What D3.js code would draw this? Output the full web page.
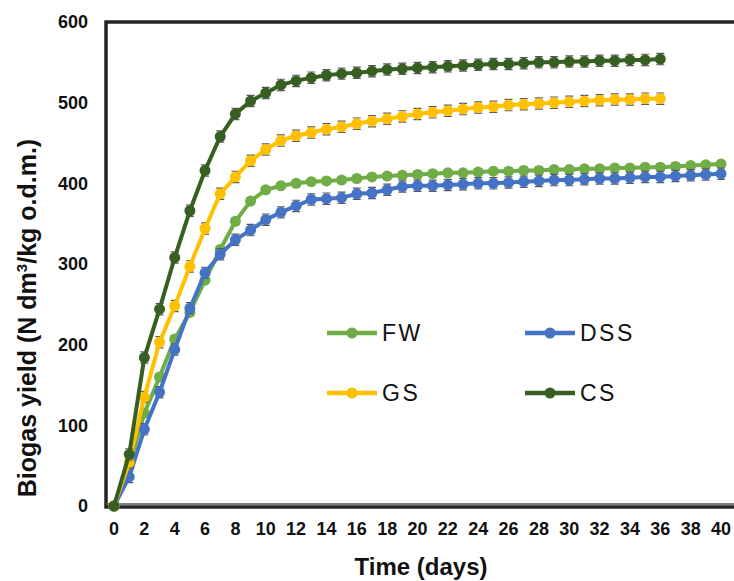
<!DOCTYPE html>
<html>
<head>
<meta charset="utf-8">
<script src="https://cdn.jsdelivr.net/npm/d3@7"></script>
<style>
  body { margin: 0; background: #fff; }
  text { font-family: "Liberation Sans", Arial, sans-serif; }
</style>
</head>
<body>
<div id="chart"></div>
<script>
// days 0..40 (CS and GS stop at day 36)
var fw  = [0, 50, 115, 160, 207, 240, 280, 318, 353, 378, 392, 397, 400, 402, 403, 404, 406, 408, 409, 410, 411,
           412, 413, 413, 414, 415, 415, 416, 416, 417, 417, 418, 418, 419, 419, 420, 420, 421, 422, 423, 424];
var dss = [0, 36, 95, 141, 194, 245, 289, 312, 330, 342, 355, 364, 372, 380, 381, 382, 387, 388, 392, 396, 397,
           397, 398, 399, 400, 400, 401, 402, 403, 404, 404, 405, 406, 406, 407, 408, 408, 409, 410, 411, 412];
var gs  = [0, 54, 135, 203, 248, 297, 344, 387, 408, 428, 442, 453, 459, 463, 467, 470, 474, 477, 480, 483, 486,
           488, 490, 492, 494, 495, 497, 498, 499, 500, 501, 502, 503, 504, 504, 505, 505];
var cs  = [0, 64, 184, 244, 308, 366, 416, 458, 486, 502, 512, 522, 527, 531, 534, 536, 537, 539, 541, 542, 543,
           544, 545, 546, 547, 548, 548, 549, 550, 550, 551, 551, 552, 552, 553, 553, 554];
var errs = {FW: 4, DSS: 7, GS: 7, CS: 7};  // standard deviation bars

var xTicks = d3.range(0, 41, 2);
var yTicks = [0, 100, 200, 300, 400, 500, 600];

var series = [
  {name: "FW",  values: fw,  color: "#70AD47"},
  {name: "DSS", values: dss, color: "#4472C4"},
  {name: "GS",  values: gs,  color: "#FFC000"},
  {name: "CS",  values: cs,  color: "#375F22"}
];

var width = 734, height = 581;

var svg = d3.select("#chart").append("svg")
    .attr("width", width)
    .attr("height", height);

var x = d3.scaleLinear().domain([0, 40]).range([114, 721]);
var y = d3.scaleLinear().domain([0, 600]).range([506, 22]);

// plot frame
svg.append("rect")
  .attr("x", 106).attr("y", 22)
  .attr("width", 700).attr("height", 485)
  .attr("fill", "none")
  .attr("stroke", "#262626")
  .attr("stroke-width", 3.5);
svg.append("line")
  .attr("x1", 106).attr("x2", 734)
  .attr("y1", 504).attr("y2", 504)
  .attr("stroke", "#555").attr("stroke-width", 1.5);

// axes labels
svg.append("g").selectAll("text")
  .data(yTicks)
  .enter().append("text")
  .attr("x", 88)
  .attr("y", function(d) { return y(d); })
  .attr("dy", "0.35em")
  .attr("text-anchor", "end")
  .style("font-size", "18px")
  .style("font-weight", "bold")
  .style("fill", "#111")
  .text(function(d) { return d; });

svg.append("g").selectAll("text")
  .data(xTicks)
  .enter().append("text")
  .attr("x", function(d) { return x(d); })
  .attr("y", 535)
  .attr("text-anchor", "middle")
  .style("font-size", "18px")
  .style("font-weight", "bold")
  .style("fill", "#111")
  .text(function(d) { return d; });

svg.append("text")
  .attr("x", 421).attr("y", 575)
  .attr("text-anchor", "middle")
  .style("font-size", "24px")
  .style("font-weight", "bold")
  .style("fill", "#111")
  .text("Time (days)");

var yt = svg.append("text")
  .attr("transform", "translate(36,318) rotate(-90)")
  .attr("text-anchor", "middle")
  .style("font-size", "25px")
  .style("font-weight", "bold")
  .style("fill", "#111");
yt.append("tspan").text("Biogas yield (N dm");
yt.append("tspan").attr("dy", -9).style("font-size", "15px").text("3");
yt.append("tspan").attr("dy", 9).text("/kg o.d.m.)");

// series
var line = d3.line()
  .x(function(d, i) { return x(i); })
  .y(function(d) { return y(d); });

series.forEach(function(s) {
  var g = svg.append("g");
  var e = errs[s.name];
  g.selectAll(".err")
    .data(s.values.map(function(v, i) { return {i: i, v: v}; }).filter(function(d) { return d.i > 0; }))
    .enter().append("path")
    .attr("d", function(d) {
      var cx = x(d.i), y1 = y(d.v + e), y2 = y(d.v - e);
      return "M" + (cx - 4) + "," + y1 + "H" + (cx + 4) +
             "M" + cx + "," + y1 + "V" + y2 +
             "M" + (cx - 4) + "," + y2 + "H" + (cx + 4);
    })
    .attr("stroke", "#595959")
    .attr("stroke-width", 1.2)
    .attr("fill", "none");
  g.append("path")
    .datum(s.values)
    .attr("d", line)
    .attr("fill", "none")
    .attr("stroke", s.color)
    .attr("stroke-width", 4);
  g.selectAll("circle")
    .data(s.values)
    .enter().append("circle")
    .attr("cx", function(d, i) { return x(i); })
    .attr("cy", function(d) { return y(d); })
    .attr("r", 5.5)
    .attr("fill", s.color);
});

// legend
var legendPos = [
  {name: "FW",  lx: 327, ly: 333},
  {name: "DSS", lx: 525, ly: 333},
  {name: "GS",  lx: 327, ly: 393},
  {name: "CS",  lx: 525, ly: 393}
];
var leg = svg.append("g");
legendPos.forEach(function(p) {
  var s = series.filter(function(d) { return d.name === p.name; })[0];
  leg.append("line")
    .attr("x1", p.lx).attr("x2", p.lx + 50)
    .attr("y1", p.ly).attr("y2", p.ly)
    .attr("stroke", s.color).attr("stroke-width", 4.5);
  leg.append("circle")
    .attr("cx", p.lx + 25).attr("cy", p.ly).attr("r", 5.5)
    .attr("fill", s.color);
  leg.append("text")
    .attr("x", p.lx + 55).attr("y", p.ly)
    .attr("dy", "0.36em")
    .style("font-size", "23px")
    .style("letter-spacing", "2.5px")
    .style("fill", "#111")
    .text(p.name);
});
</script>
</body>
</html>
